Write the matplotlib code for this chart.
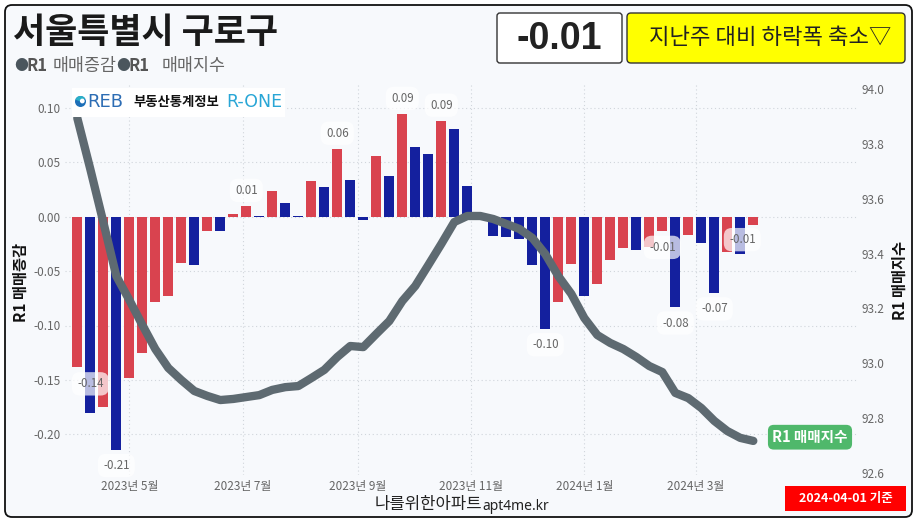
import matplotlib
matplotlib.use("Agg")
import matplotlib.pyplot as plt
import matplotlib.dates as mdates
from matplotlib.patches import FancyBboxPatch, Rectangle, Circle, Wedge
from matplotlib.ticker import FuncFormatter, FixedLocator
import pandas as pd

plt.rcParams['font.family'] = ['Noto Sans CJK KR', 'DejaVu Sans']

# ---------------- data ----------------
title = "서울특별시 구로구"
series_names = ["R1 매매증감", "R1 매매지수"]
dates = pd.date_range(end="2024-04-01", periods=53, freq="W-MON")
change = [-0.138, -0.180, -0.175, -0.214, -0.148, -0.125, -0.078, -0.073, -0.0425, -0.0443,
          -0.0128, -0.0131, 0.0024, 0.0095, 0.001, 0.024, 0.0128, 0.001, 0.033, 0.0275,
          0.062, 0.034, -0.003, 0.056, 0.0376, 0.094, 0.0645, 0.058, 0.0878, 0.081,
          0.028, 0.000, -0.0174, -0.0183, -0.0205, -0.044, -0.103, -0.0786, -0.0437, -0.0725,
          -0.062, -0.040, -0.029, -0.0306, -0.028, -0.0135, -0.083, -0.017, -0.0245, -0.070,
          -0.032, -0.034, -0.0073]
index = [93.894, 93.708, 93.515, 93.318, 93.231, 93.140, 93.052, 92.983, 92.939, 92.899,
         92.881, 92.866, 92.870, 92.877, 92.884, 92.903, 92.913, 92.917, 92.946, 92.976,
         93.023, 93.063, 93.059, 93.107, 93.154, 93.227, 93.282, 93.358, 93.435, 93.515,
         93.537, 93.537, 93.526, 93.508, 93.490, 93.457, 93.398, 93.318, 93.253, 93.165,
         93.103, 93.074, 93.052, 93.023, 92.990, 92.968, 92.892, 92.873, 92.837, 92.790,
         92.753, 92.728, 92.717]
label_idx = [0, 3, 13, 20, 25, 28, 36, 45, 46, 49, 52]
x_tick_dates = ["2023-05-01", "2023-07-01", "2023-09-01", "2023-11-01", "2024-01-01", "2024-03-01"]
left_ticks = [-0.20, -0.15, -0.10, -0.05, 0.00, 0.05, 0.10]
right_ticks = [92.6, 92.8, 93.0, 93.2, 93.4, 93.6, 93.8, 94.0]
latest_value = "-0.01"
status_text = "지난주 대비 하락폭 축소▽"
base_date = "2024-04-01 기준"
footer_kr = "나를위한아파트"
footer_en = "apt4me.kr"

# ---------------- style / layout ----------------
W, H = 920, 524
RED, BLUE, LINE = "#d9434f", "#14209e", "#5e6a71"
BG = "#f7f9fc"
L, R, T, B = 65, 857, 85, 475
label_shift = {0: (13, 17), 52: (-11, 15)}

fig = plt.figure(figsize=(W / 100, H / 100), dpi=100)
fig.patch.set_facecolor("white")

bg = fig.add_axes([0, 0, 1, 1], zorder=0)
bg.set_xlim(0, W); bg.set_ylim(H, 0); bg.axis("off")
bg.add_patch(FancyBboxPatch((5, 5), 907, 512, boxstyle="round,pad=0,rounding_size=7",
                            fc=BG, ec="#111111", lw=1.3))

ax = fig.add_axes([L / W, 1 - B / H, (R - L) / W, (B - T) / H], zorder=1)
ax.patch.set_visible(False)
ax2 = ax.twinx()
ax2.set_zorder(2)
ax2.patch.set_visible(False)

x = mdates.date2num(dates)
cols = [RED] + [RED if change[i] >= change[i - 1] else BLUE for i in range(1, len(change))]
ax.bar(x, change, width=5.38, color=cols, zorder=2)

px_per_day = 13 / 7
x0 = x[0] - (77.3 - L) / px_per_day
ax.set_xlim(x0, x0 + (R - L) / px_per_day)
zero_px, ppu = 216.7, 1088
ax.set_ylim(-(B - zero_px) / ppu, (zero_px - T) / ppu)
ppu2 = 274.3
ax2.set_ylim(92.6 - (B - 473) / ppu2, 94.0 + (89 - T) / ppu2)

ax.yaxis.set_major_locator(FixedLocator(left_ticks))
ax.yaxis.set_major_formatter(FuncFormatter(lambda v, p: f"{round(v, 2):.2f}".replace("-0.00", "0.00")))
ax2.yaxis.set_major_locator(FixedLocator(right_ticks))
ax2.yaxis.set_major_formatter(FuncFormatter(lambda v, p: f"{v:.1f}"))
ax.xaxis.set_major_locator(FixedLocator(mdates.date2num(pd.to_datetime(x_tick_dates))))
ax.xaxis.set_major_formatter(FuncFormatter(
    lambda v, p: f"{mdates.num2date(v).year}년 {mdates.num2date(v).month}월"))

for a in (ax, ax2):
    for s in a.spines.values():
        s.set_visible(False)
    a.tick_params(length=0, labelsize=8.5, labelcolor="#666666")
ax.tick_params(axis="y", pad=3)
ax2.tick_params(axis="y", pad=3)
ax.tick_params(axis="x", pad=3.5)
ax.grid(True, ls=(0, (1, 2.5)), color="#d0d5db", lw=0.8, zorder=0)
ax.set_axisbelow(True)

ax2.plot(x, index, color=LINE, lw=6.0, solid_joinstyle="round", solid_capstyle="round", zorder=3)

for i in label_idx:
    v = change[i]
    dx, dy = label_shift.get(i, (0, 16))
    sign = 1 if v >= 0 else -1
    ax.annotate(f"{v:.2f}", xy=(x[i], v), xytext=(dx * 0.72, sign * dy * 0.72),
                textcoords="offset points", ha="center", va="center",
                fontsize=8.3, color="#666666", zorder=5,
                bbox=dict(boxstyle="round,pad=0.45,rounding_size=0.7", fc="white", ec="none", alpha=0.7))

ax2.annotate(series_names[1], xy=(x[-1], index[-1]), xytext=(56.7 * 0.72, 3.7 * 0.72),
             textcoords="offset points", ha="center", va="center", fontsize=10.5,
             color="white", fontweight="bold", zorder=6,
             bbox=dict(boxstyle="round,pad=0.3,rounding_size=0.4", fc="#4fb86b", ec="none"))

# ---------------- overlay decorations ----------------
ov = fig.add_axes([0, 0, 1, 1], zorder=4)
ov.set_xlim(0, W); ov.set_ylim(H, 0); ov.axis("off")
ov.patch.set_visible(False)

ov.text(13, 32, title, fontsize=25.2, fontweight="bold", color="#1a1a1a", va="center", ha="left")

# legend row
ov.text(14, 66, "●", fontsize=10, color="#4b565d", va="center", ha="left")
ov.text(27, 66, "R1", fontsize=12, fontweight="bold", color="#555555", va="center", ha="left")
ov.text(53, 66, series_names[0].split(" ")[1], fontsize=12.5, color="#666666", va="center", ha="left")
ov.text(116, 66, "●", fontsize=10, color="#4b565d", va="center", ha="left")
ov.text(129, 66, "R1", fontsize=12, fontweight="bold", color="#555555", va="center", ha="left")
ov.text(162, 66, series_names[1].split(" ")[1], fontsize=12.5, color="#666666", va="center", ha="left")

# value box and status box
ov.add_patch(FancyBboxPatch((497, 13), 125, 50, boxstyle="round,pad=0,rounding_size=3",
                            fc="white", ec="#333333", lw=1))
ov.text(559, 39, latest_value, fontsize=27, fontweight="bold", color="#222222",
        ha="center", va="center", family=["Liberation Sans", "DejaVu Sans"])
ov.add_patch(FancyBboxPatch((627, 13), 278, 50, boxstyle="round,pad=0,rounding_size=4",
                            fc="#ffff00", ec="#333333", lw=1))
ov.text(770, 38, status_text, fontsize=16, color="#222222", ha="center", va="center",
        family=["Noto Sans CJK KR", "DejaVu Sans"])

# logo
ov.add_patch(Rectangle((72, 88), 213, 29, fc="white", ec="none"))
ov.add_patch(Circle((80.5, 101.5), 5.5, fc="#1d6fb8", ec="none"))
ov.add_patch(Wedge((80.5, 101.5), 5.5, 200, 330, fc="#2ab0c8", ec="none"))
ov.add_patch(Circle((82.3, 101.0), 2.4, fc="white", ec="none"))
ov.text(87, 102, "REB", fontsize=13, color="#2d6db4", ha="left", va="center",
        family=["DejaVu Sans"])
ov.text(133, 102, "부동산통계정보", fontsize=9.6, fontweight="bold", color="#111111",
        ha="left", va="center")
ov.text(226, 102, "R-ONE", fontsize=12.5, color="#29a6d6", ha="left", va="center",
        family=["DejaVu Sans"])

# axis titles
ov.text(21, 282, series_names[0], rotation=90, fontsize=11, fontweight="bold",
        color="#111111", ha="center", va="center")
ov.text(900, 281, series_names[1], rotation=90, fontsize=11, fontweight="bold",
        color="#111111", ha="center", va="center")

# footer
ov.text(482, 505, footer_kr, fontsize=12, color="#222222", ha="right", va="center")
ov.text(482, 506, footer_en, fontsize=10, fontweight="bold", color="#222222", ha="left",
        va="center", family=["Noto Sans", "DejaVu Sans"])

ov.add_patch(Rectangle((785, 486), 121, 25, fc="#ff0000", ec="none"))
ov.text(845.5, 498.5, base_date, fontsize=9, fontweight="bold", color="white",
        ha="center", va="center")

fig.savefig("out.png", dpi=100, facecolor=fig.get_facecolor())
